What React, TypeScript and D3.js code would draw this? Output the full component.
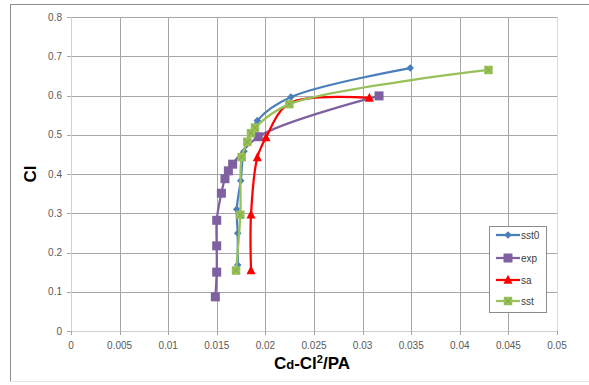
import React from "react";
import * as d3 from "d3";

// series values
const sst0X = [0.01715, 0.01715, 0.01705, 0.01746, 0.0178, 0.01917, 0.02263, 0.0349];
const sst0Y = [0.168, 0.249, 0.31, 0.383, 0.458, 0.536, 0.596, 0.67];

const expX = [0.01485, 0.01499, 0.01499, 0.01499, 0.01547, 0.01584, 0.01619, 0.01663, 0.01927, 0.03169];
const expY = [0.087, 0.15, 0.217, 0.282, 0.351, 0.388, 0.408, 0.425, 0.495, 0.599];

const saX = [0.01852, 0.01852, 0.01917, 0.02006, 0.02246, 0.0307];
const saY = [0.154, 0.296, 0.442, 0.493, 0.58, 0.594];

const sstX = [0.01698, 0.01742, 0.01756, 0.01814, 0.01852, 0.01893, 0.02246, 0.04295];
const sstY = [0.154, 0.296, 0.443, 0.482, 0.504, 0.518, 0.578, 0.665];

const xTicks = [0, 0.005, 0.01, 0.015, 0.02, 0.025, 0.03, 0.035, 0.04, 0.045, 0.05];
const yTicks = [0, 0.1, 0.2, 0.3, 0.4, 0.5, 0.6, 0.7, 0.8];

const seriesNames = ["sst0", "exp", "sa", "sst"];
const seriesColors = ["#4a7ebb", "#7f60a0", "#ff0000", "#98c159"];

type Pt = { x: number; y: number };

const zip = (xs: number[], ys: number[]): Pt[] => xs.map((x, i) => ({ x, y: ys[i] }));

const series = [
  { name: seriesNames[0], color: seriesColors[0], marker: "diamond", pts: zip(sst0X, sst0Y) },
  { name: seriesNames[1], color: seriesColors[1], marker: "square", pts: zip(expX, expY) },
  { name: seriesNames[2], color: seriesColors[2], marker: "triangle", pts: zip(saX, saY) },
  { name: seriesNames[3], color: seriesColors[3], marker: "xsquare", pts: zip(sstX, sstY) },
];

const W = 589;
const H = 385;
const plot = { left: 71, right: 557, top: 17, bottom: 331 };

function Marker({ kind, cx, cy, color }: { kind: string; cx: number; cy: number; color: string }) {
  if (kind === "diamond") {
    const r = 3.8;
    return <path d={`M${cx},${cy - r}L${cx + r},${cy}L${cx},${cy + r}L${cx - r},${cy}Z`} fill={color} />;
  }
  if (kind === "square") {
    const s = 9;
    return <rect x={cx - s / 2} y={cy - s / 2} width={s} height={s} fill={color} />;
  }
  if (kind === "triangle") {
    const s = 9;
    return <path d={`M${cx},${cy - s * 0.58}L${cx + s / 2},${cy + s * 0.42}L${cx - s / 2},${cy + s * 0.42}Z`} fill={color} />;
  }
  const s = 8.5;
  return (
    <g>
      <rect x={cx - s / 2} y={cy - s / 2} width={s} height={s} fill={color} />
      <path
        d={`M${cx - s / 2 + 1},${cy - s / 2 + 1}L${cx + s / 2 - 1},${cy + s / 2 - 1}M${cx + s / 2 - 1},${cy - s / 2 + 1}L${cx - s / 2 + 1},${cy + s / 2 - 1}`}
        stroke="#7fa845"
        strokeWidth={1}
      />
    </g>
  );
}

export default function App() {
  const x = d3.scaleLinear().domain([0, 0.05]).range([plot.left, plot.right]);
  const y = d3.scaleLinear().domain([0, 0.8]).range([plot.bottom, plot.top]);

  const line = d3
    .line<Pt>()
    .x((d) => x(d.x))
    .y((d) => y(d.y))
    .curve(d3.curveCatmullRom.alpha(0.5));

  const font = "Liberation Sans, Arial, sans-serif";
  const legendY = [235, 258, 280, 301];

  return (
    <svg width={W} height={H} style={{ position: "absolute", left: 0, top: 0, background: "#fff" }} fontFamily={font}>
      {/* chart frame */}
      <line x1={10} y1={4.5} x2={W} y2={4.5} stroke="#8c8c8c" />
      <line x1={10.5} y1={4} x2={10.5} y2={382} stroke="#8c8c8c" />
      <line x1={10} y1={381.5} x2={W} y2={381.5} stroke="#e3e3e3" />

      {/* gridlines */}
      {yTicks.slice(1).map((t) => (
        <line key={"gy" + t} x1={plot.left} x2={plot.right} y1={Math.round(y(t)) + 0.5} y2={Math.round(y(t)) + 0.5} stroke="#a6a6a6" />
      ))}
      {xTicks.slice(1, -1).map((t) => (
        <line key={"gx" + t} x1={Math.round(x(t)) + 0.5} x2={Math.round(x(t)) + 0.5} y1={plot.top} y2={plot.bottom} stroke="#a6a6a6" />
      ))}
      <line x1={plot.right + 0.5} x2={plot.right + 0.5} y1={plot.top} y2={plot.bottom} stroke="#d9d9d9" />

      {/* axes */}
      <line x1={plot.left + 0.5} x2={plot.left + 0.5} y1={plot.top} y2={plot.bottom} stroke="#d0d0d0" />
      <line x1={plot.left} x2={plot.right} y1={plot.bottom + 0.5} y2={plot.bottom + 0.5} stroke="#d0d0d0" />
      {yTicks.map((t) => (
        <g key={"yt" + t}>
          <line x1={plot.left - 4} x2={plot.left} y1={Math.round(y(t)) + 0.5} y2={Math.round(y(t)) + 0.5} stroke="#a6a6a6" />
          <text x={62} y={y(t)} dy="0.35em" textAnchor="end" fontSize={10} fill="#595959">
            {t}
          </text>
        </g>
      ))}
      {xTicks.map((t) => (
        <g key={"xt" + t}>
          <line x1={Math.round(x(t)) + 0.5} x2={Math.round(x(t)) + 0.5} y1={plot.bottom} y2={plot.bottom + 4} stroke="#a6a6a6" />
          <text x={x(t)} y={349} textAnchor="middle" fontSize={10} fill="#595959">
            {t}
          </text>
        </g>
      ))}

      {/* series */}
      {series.map((s) => (
        <g key={s.name}>
          <path d={line(s.pts) || ""} fill="none" stroke={s.color} strokeWidth={2.25} />
          {s.pts
            .filter((p) => !(s.name === "sa" && p.x === saX[4]))
            .map((p, i) => (
              <Marker key={i} kind={s.marker} cx={x(p.x)} cy={y(p.y)} color={s.color} />
            ))}
        </g>
      ))}

      {/* axis titles */}
      <text transform="translate(36,174) rotate(-90)" textAnchor="middle" fontSize={17} fontWeight="bold" fill="#000">
        Cl
      </text>
      <text x={312} y={369} textAnchor="middle" fontSize={17} fontWeight="bold" fill="#000">
        C<tspan fontSize={13}>d</tspan>-Cl<tspan fontSize={11} dy={-6}>2</tspan>
        <tspan dy={6}>/PA</tspan>
      </text>

      {/* legend */}
      <rect x={489.5} y={226.5} width={57} height={86} fill="#fff" stroke="#8c8c8c" />
      {series.map((s, i) => (
        <g key={"lg" + s.name}>
          <line x1={496} x2={520} y1={legendY[i]} y2={legendY[i]} stroke={s.color} strokeWidth={2.25} />
          <Marker kind={s.marker} cx={508} cy={legendY[i]} color={s.color} />
          <text x={521} y={legendY[i]} dy="0.35em" fontSize={10} fill="#404040">
            {s.name}
          </text>
        </g>
      ))}
    </svg>
  );
}
